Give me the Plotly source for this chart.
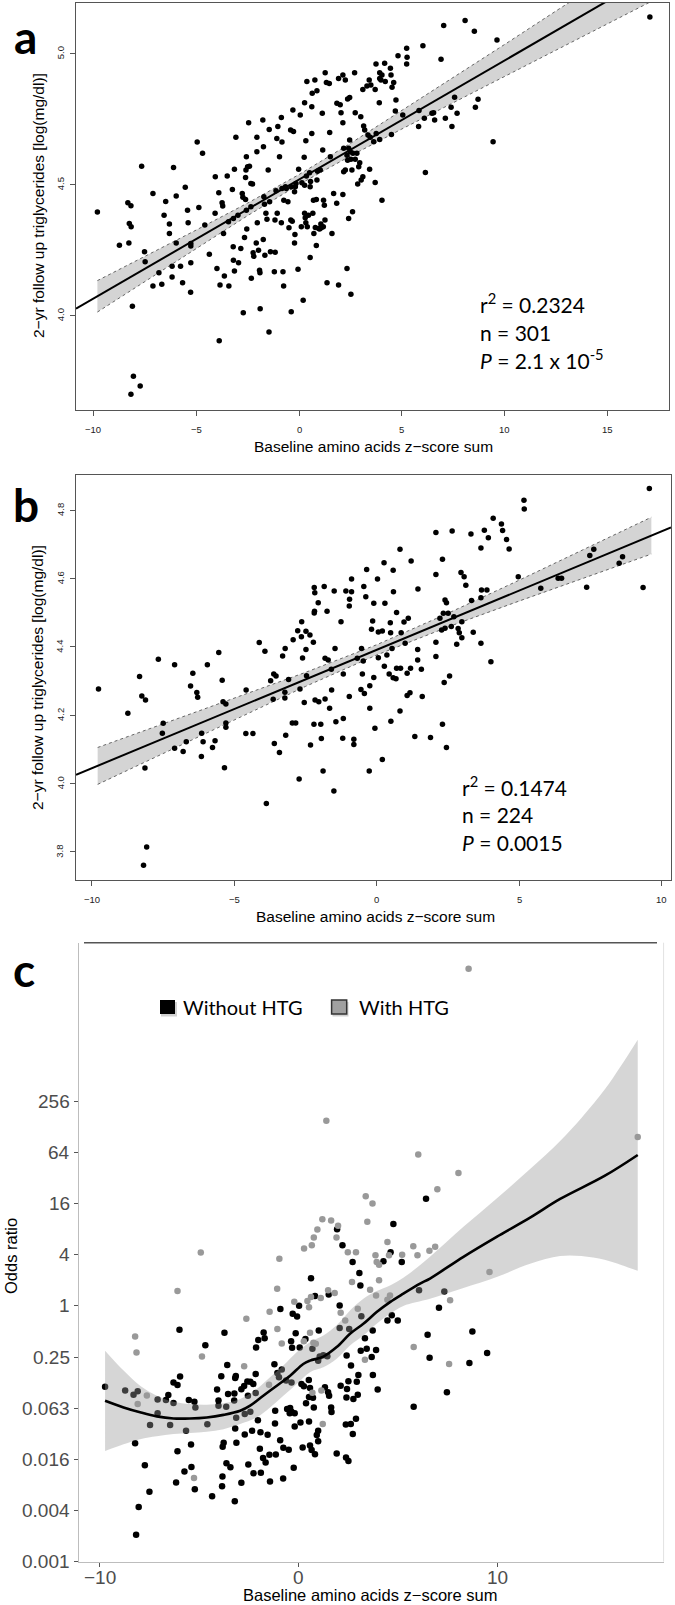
import math
import plotly.graph_objects as go

W, H = 675, 1605

# ---------------- Panel a data (x = z-score sum, y = log TG) ----------------
a_pts = [
    (-9.8,4.394),(-8.73,4.267),(-8.32,4.429),(-8.17,4.418),(-8.25,4.35),(-8.16,4.338),(-8.27,4.276),(-8.1,4.034),
    (-8.05,3.767),(-7.72,3.73),(-8.17,3.698),(-7.65,4.569),(-7.51,4.242),(-7.48,4.204),(-7.1,4.465),(-7.1,4.111),
    (-6.81,4.162),(-6.67,4.118),(-6.56,4.382),(-6.48,4.434),(-6.3,4.348),(-6.3,4.312),(-6.17,4.187),(-6.17,4.146),
    (-6.1,4.564),(-5.97,4.276),(-5.97,4.455),(-5.76,4.187),(-5.66,4.124),(-5.53,4.488),(-5.42,4.401),(-5.39,4.353),
    (-5.26,4.274),(-5.26,4.264),(-5.26,4.2),(-5.27,4.088),(-4.95,4.661),(-4.87,4.411),(-4.69,4.618),(-4.58,4.344),
    (-4.36,4.233),(-4.07,4.529),(-4.08,4.389),(-3.99,4.178),(-3.9,4.467),(-3.88,3.902),(-3.84,4.115),(-3.74,4.429),
    (-3.71,4.417),(-3.67,4.312),(-3.63,4.15),(-3.49,4.531),(-3.43,4.357),(-3.41,4.111),(-3.24,4.48),(-3.19,4.369),
    (-3.2,4.261),(-3.19,4.21),(-3.14,4.557),(-3.14,4.169),(-3.07,4.679),(-2.97,4.382),(-2.94,4.2),(-2.83,4.255),
    (-2.76,4.465),(-2.73,4.45),(-2.71,4.009),(-2.65,4.297),(-2.6,4.526),(-2.6,4.442),(-2.58,4.554),(-2.56,4.401),
    (-2.56,4.605),(-2.54,4.329),(-2.5,4.567),(-2.45,4.735),(-2.41,4.569),(-2.34,4.503),(-2.34,4.414),(-2.32,4.141),
    (-2.26,4.501),(-2.23,4.238),(-2.2,4.225),(-2.08,4.276),(-2.05,4.679),(-2.05,4.624),(-2.03,4.353),(-1.97,4.248),
    (-1.92,4.172),(-1.9,4.162),(-1.89,4.025),(-1.76,4.745),(-1.74,4.289),(-1.73,4.643),(-1.71,4.452),(-1.68,4.424),
    (-1.66,4.229),(-1.61,4.389),(-1.56,4.366),(-1.46,3.936),(-1.5,4.554),(-1.45,4.709),(-1.43,4.433),(-1.39,4.242),
    (-1.2,4.166),(-1.16,4.24),(-1.17,4.363),(-1.12,4.475),(-1.08,4.675),(-1.06,4.389),(-1.03,4.72),(-0.95,4.605),
    (-0.86,4.755),(-0.83,4.661),(-0.78,4.166),(-0.75,4.111),(-0.86,4.353),(-0.83,4.484),(-0.74,4.439),(-0.66,4.49),
    (-0.62,4.484),(-0.54,4.433),(-0.49,4.334),(-0.41,4.707),(-0.4,4.363),(-0.38,4.49),(-0.38,4.013),(-0.33,4.359),
    (-0.3,4.783),(-0.27,4.701),(-0.22,4.471),(-0.2,4.308),(-0.22,4.276),(-0.18,4.49),(-0.15,4.503),(-0.05,4.175),
    (-0.02,4.557),(0.06,4.764),(0.11,4.338),(0.14,4.506),(0.2,4.057),(0.27,4.811),(0.25,4.603),(0.27,4.496),
    (0.27,4.389),(0.3,4.372),(0.33,4.353),(0.33,4.666),(0.36,4.531),(0.38,4.892),(0.4,4.338),(0.46,4.382),
    (0.51,4.544),(0.54,4.49),(0.54,4.22),(0.56,4.51),(0.62,4.796),(0.62,4.694),(0.64,4.847),(0.67,4.389),
    (0.7,4.439),(0.72,4.312),(0.77,4.898),(0.79,4.335),(0.84,4.442),(0.84,4.266),(0.87,4.857),(0.87,4.516),
    (0.9,4.55),(0.95,4.331),(1.0,4.329),(1.03,4.554),(1.06,4.348),(1.08,4.334),(1.13,4.771),(1.15,4.631),
    (1.18,4.338),(1.19,4.439),(1.23,4.42),(1.26,4.363),(1.27,4.926),(1.33,4.888),(1.36,4.124),(1.49,4.697),
    (1.47,4.885),(1.52,4.605),(1.6,4.312),(1.68,4.465),(1.83,4.427),(1.84,4.809),(1.92,4.904),(1.92,4.115),
    (2.13,4.917),(2.25,4.898),(2.7,4.926),(2.36,4.825),(2.46,4.831),(2.0,4.803),(2.04,4.773),(2.13,4.735),
    (2.73,4.773),(3.0,4.758),(3.1,4.862),(3.3,4.875),(3.41,4.898),(3.49,4.879),(3.7,4.862),(3.74,4.959),
    (3.92,4.926),(4.03,4.917),(4.16,4.962),(3.92,4.904),(3.98,4.898),(4.19,4.892),(4.44,4.943),(4.47,4.917),
    (4.6,4.888),(4.52,4.87),(4.81,4.99),(5.23,5.019),(5.25,4.985),(5.23,4.959),(6.02,5.029),(7.03,5.106),
    (8.07,5.125),(8.52,5.084),(9.62,5.051),(6.9,4.977),(3.9,4.811),(4.71,4.822),(4.68,4.78),(5.04,4.764),
    (5.83,4.781),(5.81,4.72),(6.09,4.752),(6.46,4.771),(6.59,4.745),(6.54,4.773),(7.11,4.752),(7.39,4.794),
    (7.56,4.832),(7.68,4.771),(7.43,4.72),(8.57,4.794),(8.7,4.824),(9.43,4.662),(17.05,5.138),(3.14,4.722),
    (3.19,4.707),(3.35,4.688),(3.46,4.679),(3.75,4.694),(3.92,4.671),(3.63,4.662),(4.49,4.69),(2.46,4.669),
    (2.17,4.637),(2.41,4.637),(2.49,4.624),(2.33,4.611),(2.62,4.618),(2.81,4.618),(2.36,4.592),(2.52,4.595),
    (2.73,4.595),(2.95,4.582),(2.9,4.567),(2.17,4.548),(2.25,4.554),(2.57,4.554),(3.43,4.557),(3.1,4.529),
    (3.02,4.516),(2.85,4.501),(3.7,4.507),(6.14,4.545),(4.03,4.439),(2.13,4.461),(2.6,4.395),(2.41,4.369),
    (2.33,4.178),(2.52,4.08),
]
a_fit_x = [-10.84, 17.98]
a_fit_y = [4.025, 5.336]
a_band_x = [-9.8, -7.5, -5, -2.5, 0, 2.5, 5, 7.5, 10, 12.5, 15, 17.1]
a_band_lo = [4.012, 4.129, 4.255, 4.380, 4.499, 4.608, 4.711, 4.812, 4.912, 5.012, 5.114, 5.197]
a_band_hi = [4.132, 4.224, 4.325, 4.428, 4.537, 4.656, 4.781, 4.907, 5.034, 5.162, 5.288, 5.395]
a_xticks = [-10, -5, 0, 5, 10, 15]
a_yticks = [4.0, 4.5, 5.0]

# ---------------- Panel b data ----------------
b_pts = [
    (-9.77,4.276),(-8.74,4.205),(-8.33,4.313),(-8.25,4.256),(-8.12,4.244),(-8.14,4.045),(-8.08,3.814),(-8.19,3.76),
    (-7.67,4.363),(-7.5,4.176),(-7.53,4.147),(-7.1,4.347),(-7.1,4.103),(-6.8,4.093),(-6.69,4.122),(-6.54,4.285),
    (-6.46,4.322),(-6.29,4.252),(-6.32,4.266),(-6.15,4.147),(-6.1,4.122),(-6.16,4.079),(-5.95,4.347),(-5.77,4.105),
    (-5.68,4.125),(-5.55,4.383),(-5.43,4.302),(-5.4,4.239),(-5.3,4.232),(-5.3,4.177),(-5.3,4.164),(-5.35,4.046),
    (-4.59,4.273),(-4.35,4.146),(-4.6,4.146),(-3.88,3.941),(-3.73,4.3),(-3.64,4.246),(-3.6,4.117),(-3.42,4.09),
    (-3.23,4.267),(-3.23,4.25),(-3.2,4.141),(-2.97,4.177),(-2.85,4.177),(-2.73,4.013),(-2.7,4.276),(-2.55,4.237),
    (-2.47,4.315),(-2.33,4.112),(-2.21,4.173),(-2.17,4.244),(-2.04,4.239),(-1.97,4.173),(-1.95,4.131),(-1.89,4.036),
    (-1.66,4.22),(-3.62,4.32),
    (-4.13,4.412),(-3.93,4.387),(-3.31,4.373),(-3.22,4.395),(-2.94,4.42),(-2.78,4.447),(-2.65,4.429),(-2.64,4.473),
    (-2.49,4.445),(-2.61,4.367),(-2.49,4.392),(-2.18,4.558),(-2.2,4.573),(-2.19,4.504),(-2.2,4.499),(-2.06,4.529),
    (-1.85,4.576),(-1.75,4.504),(-1.82,4.366),(-1.71,4.361),(-1.6,4.334),(-3.54,4.314),(-3.1,4.304),(-2.23,4.413),
    (-2.35,4.434),(-1.82,4.247),
    (9.56,4.863),(5.16,4.829),(5.17,4.803),(4.08,4.776),(4.37,4.759),(4.41,4.74),(4.55,4.714),(4.64,4.686),
    (3.77,4.741),(3.91,4.719),(3.65,4.689),(2.07,4.734),(2.64,4.739),(3.3,4.73),(0.81,4.685),(0.25,4.646),
    (1.2,4.651),(2.3,4.656),(-0.36,4.626),(0.57,4.624),(0.02,4.598),(-0.89,4.598),(2.07,4.611),(2.95,4.617),
    (3.06,4.605),(3.12,4.58),(1.44,4.569),(4.96,4.605),(5.75,4.571),(6.36,4.6),(6.48,4.6),(7.36,4.574),
    (7.47,4.667),(7.61,4.685),(8.5,4.644),(8.62,4.663),(9.34,4.573),(-1.5,4.563),(-1.09,4.563),(-0.89,4.561),
    (-0.46,4.576),(-0.96,4.539),(-0.11,4.527),(0.58,4.561),(0.69,4.5),(0.28,4.527),(-0.39,4.546),(-0.97,4.519),
    (-1.26,4.473),(-0.15,4.475),(-0.19,4.451),(0.05,4.443),(0.19,4.446),(0.47,4.47),(0.48,4.441),(0.85,4.441),
    (0.95,4.472),(1.1,4.483),(0.99,4.41),(0.53,4.395),(1.43,4.392),(2.07,4.413),(2.07,4.371),(2.21,4.483),
    (2.27,4.449),(2.39,4.454),(2.39,4.537),(2.44,4.529),(2.5,4.498),(2.33,4.498),(2.61,4.459),(2.7,4.488),
    (2.85,4.453),(2.89,4.441),(2.98,4.426),(2.8,4.407),(2.98,4.473),(3.38,4.442),(3.32,4.535),(3.65,4.543),
    (3.67,4.566),(3.86,4.566),(3.65,4.41),(4.0,4.356),(2.36,4.295),(2.55,4.314),(2.3,4.173),(2.44,4.105),
    (1.88,4.134),(1.33,4.137),(1.59,4.254),(1.56,4.334),(1.43,4.361),(1.18,4.337),(1.06,4.322),(0.83,4.337),
    (0.69,4.337),(0.67,4.306),(0.57,4.309),(0.43,4.32),(0.35,4.376),(0.26,4.343),(0.05,4.368),(-0.54,4.395),
    (-0.69,4.366),(-0.48,4.358),(-0.51,4.32),(-0.56,4.275),(-0.44,4.263),(-0.25,4.286),(-0.11,4.31),(-1.47,4.395),
    (-1.18,4.32),(-1.59,4.273),(-0.97,4.254),(-0.25,4.22),(-0.07,4.161),(-1.18,4.19),(-1.44,4.18),(-1.2,4.132),
    (-0.81,4.129),(-0.81,4.114),(0.49,4.182),(0.81,4.212),(1.06,4.257),(1.16,4.265),(0.19,4.07),(-0.27,4.036),
    (-1.51,3.978),
]
b_fit_x = [-10.56, 10.32]
b_fit_y = [4.025, 4.749]
b_band_x = [-9.8, -7.5, -5, -2.5, 0, 2.5, 5, 7.5, 9.63]
b_band_lo = [3.997, 4.088, 4.187, 4.284, 4.376, 4.458, 4.534, 4.608, 4.671]
b_band_hi = [4.105, 4.174, 4.248, 4.325, 4.406, 4.498, 4.595, 4.694, 4.779]
b_xticks = [-10, -5, 0, 5, 10]
b_yticks = [3.8, 4.0, 4.2, 4.4, 4.6, 4.8]

# ---------------- Panel c data (y stored as log2 of the odds ratio) ----------------
c_without = [
    (-9.74,-3.16),(-8.73,-3.31),(-8.31,-3.47),(-8.1,-3.34),(-8.23,-5.37),(-7.74,-6.23),(-7.51,-7.27),(-8.05,-7.86),
    (-8.18,-8.95),(-7.48,-4.66),(-7.1,-3.66),(-7.1,-4.2),(-6.68,-3.68),(-6.56,-3.48),(-6.47,-4.66),(-6.3,-2.99),
    (-6.1,-3.09),(-5.97,-2.76),(-6.0,-0.93),(-6.3,-3.8),(-6.1,-5.68),(-5.67,-4.88),(-5.53,-3.68),(-5.42,-5.42),
    (-5.25,-3.75),(-5.2,-3.97),(-5.4,-6.3),(-5.75,-6.47),(-6.17,-6.9),(-5.23,-7.17),(-4.7,-1.54),(-4.6,-4.63),
    (-4.36,-7.44),(-4.11,-3.27),(-4.04,-3.7),(-3.9,-2.75),(-4.04,-3.9),(-3.65,-3.94),(-3.74,-1.05),(-3.6,-2.31),
    (-3.56,-3.44),(-3.24,-3.42),(-3.2,-2.82),(-3.17,-2.74),(-3.25,-3.7),(-3.15,-4.37),(-3.2,-4.79),(-3.78,-5.35),
    (-3.83,-5.51),(-3.64,-6.15),(-3.44,-6.31),(-3.84,-6.67),(-3.86,-7.05),(-3.22,-7.64),(-2.89,-6.91),(-3.14,-5.35),
    (-2.89,-3.26),(-2.75,-3.13),(-2.59,-2.96),(-2.56,-3.51),(-2.44,-2.97),(-2.29,-3.05),(-2.17,-2.66),(-2.72,-4.23),
    (-2.44,-4.14),(-2.72,-5.03),(-2.35,-4.88),(-2.17,-3.41),(-2.06,-4.47),(-1.93,-4.94),(-2.15,-1.63),(-2.04,-1.33),
    (-1.77,-1.04),(-1.72,-1.26),(-2.54,-6.2),(-2.28,-6.54),(-1.91,-6.52),(-1.45,-6.87),(-1.8,-5.95),(-1.67,-6.12),
    (-1.48,-5.82),(-1.16,-5.81),(-1.96,-5.58),(-1.57,-5.04),(-1.2,-4.6),(-1.19,-4.1),(-0.94,-5.25),(-0.78,-5.55),
    (-0.51,-5.62),(-0.26,-6.33),(-0.79,-6.75),(-1.23,-2.28),(-0.93,-0.12),(-1.08,-2.62),(-0.86,-2.49),(-1.0,-2.79),
    (-0.64,-2.92),(-0.37,-2.99),(-0.59,-4.03),(-0.44,-3.99),(-0.37,-4.14),(-0.21,-4.2),(-0.46,-4.2),(-0.39,-1.38),
    (-0.34,-1.64),(-0.16,-1.07),(-0.31,-0.31),(0.01,0.01),(-0.09,-0.41),(0.04,-1.63),(0.33,-1.29),(0.68,-1.68),
    (1.0,-0.96),(0.81,0.39),(0.61,1.08),(0.13,-3.05),(0.25,-3.14),(0.5,-2.9),(0.56,-3.21),(0.51,-3.56),
    (0.75,-3.97),(0.71,-3.59),(0.36,-3.81),(0.51,-4.52),(0.08,-4.56),(-0.21,-4.71),(0.19,-5.54),(0.56,-5.46),
    (0.64,-5.63),(0.81,-5.8),(0.97,-5.29),(0.97,-4.88),(0.9,-5.05),(1.31,-3.18),(1.47,-3.38),(1.52,-3.51),
    (1.62,-3.97),(1.64,-4.15),(1.23,-1.93),(1.43,-1.97),(0.97,-2.14),(1.05,-1.98),(1.5,0.45),(2.05,0.02),
    (2.05,-0.86),(2.53,-0.9),(3.09,0.8),(3.04,1.29),(3.14,-0.4),(3.32,-1.26),(3.11,-1.75),(3.41,-1.68),
    (3.71,-0.96),(3.88,-1.72),(3.66,-2.0),(2.4,-1.94),(2.62,-2.33),(2.1,-3.12),(2.42,-3.25),(2.49,-2.95),
    (2.91,-2.97),(2.99,-2.7),(3.72,-2.7),(3.96,-3.27),(2.96,-3.47),(2.74,-3.64),(2.39,-3.58),(2.87,-4.41),
    (2.61,-4.62),(2.36,-4.64),(2.71,-5.01),(1.9,-5.77),(2.37,-5.93),(2.49,-6.06),(4.45,-0.57),(4.67,-0.37),
    (4.97,-0.57),(5.77,-3.94),(6.04,0.61),(6.39,4.19),(4.75,3.2),(1.92,3.0),(2.19,2.37),(2.7,1.72),
    (4.61,2.1),(4.25,1.75),(5.17,1.72),(7.31,0.56),(7.04,-0.07),(8.72,-1.0),(6.47,-1.13),(9.46,-1.84),
    (6.57,-2.03),(8.57,-2.23),(7.44,-3.38),
]
c_with = [
    (-8.23,-1.2),(-8.16,-1.82),(-8.1,-3.84),(-7.64,-3.5),(-6.1,0.58),(-5.27,-6.73),(-4.87,-1.98),(-2.75,-2.36),
    (-2.64,-0.5),(-0.86,-1.47),(-1.08,-0.9),(-1.47,-0.23),(-1.09,0.67),(-1.5,-3.08),(-0.23,0.16),(0.25,-1.38),
    (0.43,0.19),(0.51,-0.05),(0.56,-1.05),(0.73,-1.44),(0.85,-1.48),(0.61,0.35),(1.1,0.31),(0.68,-3.4),
    (1.2,-4.62),(1.13,-3.31),(1.47,0.61),(1.8,0.5),(2.1,-0.27),(2.33,-0.57),(2.67,0.93),(2.96,-0.11),
    (3.32,-2.11),(5.77,-1.61),(4.45,0.24),(4.03,1.0),(3.58,0.63),(3.88,0.41),(4.58,0.41),(1.38,7.24),
    (6.0,5.92),(8.02,5.2),(6.96,4.56),(3.36,4.29),(3.7,4.0),(3.44,3.29),(1.18,3.39),(1.62,3.34),
    (1.97,3.13),(0.93,2.99),(0.75,2.67),(0.65,2.37),(0.26,2.24),(-0.98,1.84),(1.89,2.67),(2.46,2.1),
    (2.87,2.1),(4.45,2.5),(3.85,1.98),(3.91,1.72),(4.03,1.61),(4.53,1.98),(5.19,2.0),(5.75,2.33),
    (5.96,1.98),(6.56,2.16),(6.85,2.31),(9.58,1.33),(7.6,0.22),(7.55,-2.27),(17.03,6.6),(8.53,13.18),
    (-4.93,2.09),
]
c_fit_x = [-9.74,-8.81,-7.98,-7.14,-6.3,-5.47,-4.63,-3.79,-2.95,-2.45,-1.79,-1.11,-0.44,0.22,0.56,1.23,1.9,
           2.57,3.24,3.91,4.58,5.25,6.09,6.59,8.27,9.94,11.62,13.13,15.36,17.03]
c_fit_log2 = [-3.71,-3.97,-4.16,-4.32,-4.4,-4.4,-4.36,-4.26,-4.1,-3.9,-3.51,-3.12,-2.73,-2.27,-2.14,-1.98,-1.61,
              -1.09,-0.7,-0.24,0.15,0.48,0.87,1.07,1.92,2.7,3.45,4.18,5.08,5.9]
c_band_x = [-9.74,-8.81,-7.98,-7.14,-6.3,-5.47,-4.63,-3.79,-2.95,-2.12,-1.45,-0.78,-0.11,0.56,1.23,1.9,2.57,
            3.24,3.91,4.58,5.25,6.59,8.27,9.94,11.62,13.13,14.2,15.36,16.2,17.03]
c_band_hi = [-1.75,-2.53,-3.12,-3.51,-3.75,-3.84,-3.86,-3.81,-3.64,-3.25,-2.79,-2.33,-1.81,-1.42,-1.16,-0.76,
             -0.18,0.28,0.58,0.8,1.1,1.92,3.09,4.2,5.35,6.45,7.35,8.45,9.4,10.41]
c_band_lo = [-5.67,-5.41,-5.21,-5.1,-5.01,-4.97,-4.92,-4.82,-4.62,-4.36,-3.97,-3.51,-3.05,-2.59,-2.4,-2.07,
             -1.55,-1.16,-0.7,-0.31,0.0,0.28,0.7,1.13,1.65,1.95,1.95,1.8,1.6,1.37]
c_xticks = [-10, 0, 10]
c_ytick_log2 = [-10, -8, -6, -4, -2, 0, 2, 4, 6, 8]
c_ytick_text = ["0.001", "0.004", "0.016", "0.063", "0.25", "1", "4", "16", "64", "256"]

# ---------------- helpers (positions in page pixels) ----------------
def dx(l, r):
    return [l / W, r / W]

def dy(t, b):
    return [1 - b / H, 1 - t / H]

def px(x):
    return x / W

def py(y):
    return 1 - y / H

def xlab(v):
    return ("%g" % v).replace("-", "\u2212")

def ylab(v):
    return "%.1f" % v

fig = go.Figure()

def add_lm_panel(pts, fit_x, fit_y, bx, blo, bhi, xa, ya):
    fig.add_trace(go.Scatter(x=bx + bx[::-1], y=bhi + blo[::-1], fill="toself", fillcolor="#d4d4d4",
                             line=dict(width=0), mode="lines", xaxis=xa, yaxis=ya, hoverinfo="skip"))
    for arr in (bhi, blo):
        fig.add_trace(go.Scatter(x=bx, y=arr, mode="lines",
                                 line=dict(color="#666", width=1, dash="dot"),
                                 xaxis=xa, yaxis=ya))
    fig.add_trace(go.Scatter(x=fit_x, y=fit_y, mode="lines", line=dict(color="black", width=2),
                             xaxis=xa, yaxis=ya))
    fig.add_trace(go.Scatter(x=[p[0] for p in pts], y=[p[1] for p in pts], mode="markers",
                             marker=dict(color="black", size=5.5, line=dict(width=0)), xaxis=xa, yaxis=ya))

add_lm_panel(a_pts, a_fit_x, a_fit_y, a_band_x, a_band_lo, a_band_hi, "x", "y")
add_lm_panel(b_pts, b_fit_x, b_fit_y, b_band_x, b_band_lo, b_band_hi, "x2", "y2")

# panel c
fig.add_trace(go.Scatter(x=[p[0] for p in c_without], y=[2.0 ** p[1] for p in c_without], mode="markers",
                         marker=dict(color="black", size=6.5, line=dict(width=0)), xaxis="x3", yaxis="y3"))
fig.add_trace(go.Scatter(x=[p[0] for p in c_with], y=[2.0 ** p[1] for p in c_with], mode="markers",
                         marker=dict(color="#999999", size=6.5, line=dict(width=0)), xaxis="x3", yaxis="y3"))
fig.add_trace(go.Scatter(x=c_band_x, y=[2.0 ** v for v in c_band_lo], mode="lines",
                         line=dict(width=0, shape="spline", color="rgba(0,0,0,0)"),
                         xaxis="x3", yaxis="y3", hoverinfo="skip"))
fig.add_trace(go.Scatter(x=c_band_x, y=[2.0 ** v for v in c_band_hi], mode="lines", fill="tonexty",
                         fillcolor="rgba(153,153,153,0.4)",
                         line=dict(width=0, shape="spline", color="rgba(0,0,0,0)"),
                         xaxis="x3", yaxis="y3", hoverinfo="skip"))
fig.add_trace(go.Scatter(x=c_fit_x, y=[2.0 ** v for v in c_fit_log2], mode="lines",
                         line=dict(color="black", width=2.6, shape="spline"), xaxis="x3", yaxis="y3"))

base_ax = dict(showgrid=False, zeroline=False, showline=True, mirror=True, linecolor="#555", linewidth=1,
               ticks="outside", ticklen=5, tickcolor="#555", tickwidth=1, showticklabels=False)

c_ax = dict(zeroline=False, showline=True, mirror=False, linecolor="#bdbdbd", linewidth=1, showgrid=False,
            ticks="outside", ticklen=4, tickcolor="#555", tickwidth=1, showticklabels=False)

fig.update_layout(
    width=W, height=H, margin=dict(l=0, r=0, t=0, b=0),
    paper_bgcolor="white", plot_bgcolor="white", showlegend=False, template="none",
    xaxis=dict(base_ax, domain=dx(76, 669), range=[-10.84, 17.98], tickvals=a_xticks, anchor="y"),
    yaxis=dict(base_ax, domain=dy(2.7, 409.5), range=[3.64, 5.193], tickvals=a_yticks, anchor="x"),
    xaxis2=dict(base_ax, domain=dx(76, 671), range=[-10.56, 10.32], tickvals=b_xticks, anchor="y2"),
    yaxis2=dict(base_ax, domain=dy(474.5, 880.4), range=[3.716, 4.904], tickvals=b_yticks, anchor="x2"),
    xaxis3=dict(c_ax, domain=dx(79, 663.6), range=[-11.05, 18.33], tickvals=c_xticks, anchor="y3"),
    yaxis3=dict(c_ax, domain=dy(942.7, 1561.7), type="log", range=[-3.0105, 4.2746],
                tickvals=[2.0 ** k for k in c_ytick_log2], anchor="x3"),
)

shapes = [
    dict(type="line", xref="paper", yref="paper", x0=px(84), x1=px(657), y0=py(942.7), y1=py(942.7),
         line=dict(color="#555", width=1.5)),
    dict(type="line", xref="paper", yref="paper", x0=px(663.6), x1=px(663.6), y0=py(942.7), y1=py(1561.7),
         line=dict(color="#e2e2e2", width=1)),
    dict(type="rect", xref="paper", yref="paper", x0=px(161), x1=px(177), y0=py(1016.5), y1=py(1002),
         fillcolor="rgba(0,0,0,0.18)", line=dict(width=0)),
    dict(type="rect", xref="paper", yref="paper", x0=px(160), x1=px(175), y0=py(1014), y1=py(1000),
         fillcolor="black", line=dict(width=0)),
    dict(type="rect", xref="paper", yref="paper", x0=px(332.5), x1=px(348.5), y0=py(1016.5), y1=py(1002),
         fillcolor="rgba(0,0,0,0.18)", line=dict(width=0)),
    dict(type="rect", xref="paper", yref="paper", x0=px(331.6), x1=px(346.7), y0=py(1014), y1=py(1000),
         fillcolor="#a0a0a0", line=dict(color="#333", width=1.5)),
]
fig.update_layout(shapes=shapes)

ann = []

def text(x, y, s, size, family="Liberation Sans", color="black", xanchor="center", yanchor="middle", angle=0,
         xref="paper", yref="paper"):
    ann.append(dict(x=x if xref != "paper" else px(x), y=y if yref != "paper" else py(y), xref=xref, yref=yref,
                    text=s, showarrow=False, font=dict(family=family, size=size, color=color),
                    xanchor=xanchor, yanchor=yanchor, textangle=angle))

# tick labels, placed through the axes' own scales
for v in a_xticks:
    text(v, 429, xlab(v), 9.5, color="#222", xref="x")
for v in a_yticks:
    text(60, v, ylab(v), 9.5, color="#222", yref="y", angle=-90)
for v in b_xticks:
    text(v, 899, xlab(v), 9.5, color="#222", xref="x2")
for v in b_yticks:
    text(60, v, ylab(v), 9.5, color="#222", yref="y2", angle=-90)
for v in c_xticks:
    text(v, 1577, xlab(v), 19, color="#4d4d4d", xref="x3")
for k, t in zip(c_ytick_log2, c_ytick_text):
    text(72, k * math.log10(2.0), t, 19, color="#4d4d4d", xanchor="right", yref="y3")

# axis titles
text(373.5, 446, "Baseline amino acids z\u2212score sum", 15.5)
text(38, 206, "2\u2212yr follow up triglycerides [log(mg/dl)]", 15.5, angle=-90)
text(375, 916, "Baseline amino acids z\u2212score sum", 15.5)
text(38, 678, "2\u2212yr follow up triglycerides [log(mg/dl)]", 15.5, angle=-90)
text(371, 1595, "Baseline amino acids z\u2212score sum", 16.5)
text(11, 1256, "Odds ratio", 16.5, angle=-90)

# panel letters
text(25, 37, "<b>a</b>", 46, family="Lato")
text(26, 504, "<b>b</b>", 46, family="Lato")
text(24, 970, "<b>c</b>", 46, family="Lato")

# statistics
text(478, 303, "r<sup>2</sup> = 0.2324", 21, family="Lato", xanchor="left")
text(478, 332, "n = 301", 21, family="Lato", xanchor="left")
text(478, 359, "<i>P</i> = 2.1 x 10<sup>-5</sup>", 21, family="Lato", xanchor="left")
text(460, 786, "r<sup>2</sup> = 0.1474", 21, family="Lato", xanchor="left")
text(460, 815, "n = 224", 21, family="Lato", xanchor="left")
text(460, 842, "<i>P</i> = 0.0015", 21, family="Lato", xanchor="left")

# legend labels
text(180.5, 1007, "Without HTG", 20, family="Lato", xanchor="left")
text(356.6, 1007, "With HTG", 20, family="Lato", xanchor="left")

fig.update_layout(annotations=ann)

# remove the default page margin so the figure fills the 675x1605 window exactly; hide the mode bar
fig.write_html("out.html", config={"displayModeBar": False},
               post_script="document.body.style.margin='0px';document.body.style.overflow='hidden';")
